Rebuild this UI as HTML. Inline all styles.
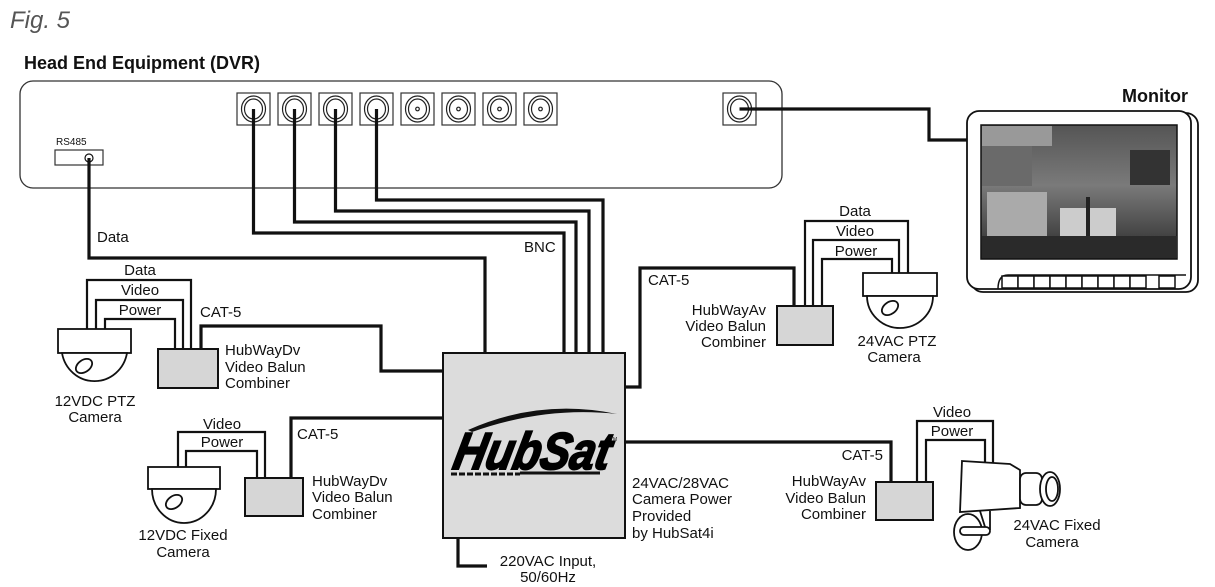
<!DOCTYPE html>
<html><head><meta charset="utf-8"><style>
html,body{margin:0;padding:0;background:#fff;}
svg{display:block;}
text{font-family:"Liberation Sans",Arial,sans-serif;fill:#111;}
</style></head><body>
<svg width="1215" height="587" viewBox="0 0 1215 587" xmlns="http://www.w3.org/2000/svg">
<defs>
<linearGradient id="scr" x1="0" y1="0" x2="0" y2="1">
<stop offset="0" stop-color="#555"/><stop offset="0.45" stop-color="#7a7a7a"/><stop offset="1" stop-color="#2a2a2a"/>
</linearGradient>
</defs>
<text x="10" y="28" font-size="24" font-style="italic" fill="#555" style="fill:#555">Fig. 5</text>
<text x="24" y="69" font-size="18" font-weight="bold">Head End Equipment (DVR)</text>

<!-- DVR -->
<rect x="20" y="81" width="762" height="107" rx="13" fill="#fff" stroke="#333" stroke-width="1.3"/>
<text x="56" y="145" font-size="10">RS485</text>
<rect x="55" y="150" width="48" height="15" fill="#fff" stroke="#333" stroke-width="1.2"/>
<circle cx="89" cy="158" r="4" fill="#fff" stroke="#111" stroke-width="1.2"/>
<g stroke="#333" stroke-width="1.2" fill="#fff">
<rect x="237" y="93" width="33" height="32"/><rect x="278" y="93" width="33" height="32"/>
<rect x="319" y="93" width="33" height="32"/><rect x="360" y="93" width="33" height="32"/>
<rect x="401" y="93" width="33" height="32"/><rect x="442" y="93" width="33" height="32"/>
<rect x="483" y="93" width="33" height="32"/><rect x="524" y="93" width="33" height="32"/>
<rect x="723" y="93" width="33" height="32"/>
</g>
<g stroke="#222" stroke-width="1.2" fill="none">
<ellipse cx="253.5" cy="109" rx="12" ry="13"/><ellipse cx="253.5" cy="109" rx="9" ry="10"/>
<ellipse cx="294.5" cy="109" rx="12" ry="13"/><ellipse cx="294.5" cy="109" rx="9" ry="10"/>
<ellipse cx="335.5" cy="109" rx="12" ry="13"/><ellipse cx="335.5" cy="109" rx="9" ry="10"/>
<ellipse cx="376.5" cy="109" rx="12" ry="13"/><ellipse cx="376.5" cy="109" rx="9" ry="10"/>
<ellipse cx="417.5" cy="109" rx="12" ry="13"/><ellipse cx="417.5" cy="109" rx="9" ry="10"/><circle cx="417.5" cy="109" r="1.8"/>
<ellipse cx="458.5" cy="109" rx="12" ry="13"/><ellipse cx="458.5" cy="109" rx="9" ry="10"/><circle cx="458.5" cy="109" r="1.8"/>
<ellipse cx="499.5" cy="109" rx="12" ry="13"/><ellipse cx="499.5" cy="109" rx="9" ry="10"/><circle cx="499.5" cy="109" r="1.8"/>
<ellipse cx="540.5" cy="109" rx="12" ry="13"/><ellipse cx="540.5" cy="109" rx="9" ry="10"/><circle cx="540.5" cy="109" r="1.8"/>
<ellipse cx="739.5" cy="109" rx="12" ry="13"/><ellipse cx="739.5" cy="109" rx="9" ry="10"/>
</g>

<!-- wires -->
<g stroke="#111" stroke-width="3.2" fill="none" stroke-linejoin="miter">
<polyline points="89,158 89,258 485,258 485,353"/>
<polyline points="253.5,109 253.5,233 564,233 564,353"/>
<polyline points="294.5,109 294.5,222 576,222 576,353"/>
<polyline points="335.5,109 335.5,211 589,211 589,353"/>
<polyline points="376.5,109 376.5,200 603,200 603,353"/>
<polyline points="739.5,109 929,109 929,140 967,140"/>
<polyline points="201,349 201,326 381,326 381,371 443,371"/>
<polyline points="291,478 291,418 443,418"/>
<polyline points="625,387 640,387 640,268 794,268 794,306"/>
<polyline points="625,442 891,442 891,482"/>
<polyline points="458,538 458,566 487,566"/>
</g>
<g stroke="#111" stroke-width="2.2" fill="none">
<polyline points="87,330 87,280 191,280 191,349"/>
<polyline points="96,330 96,300 183,300 183,349"/>
<polyline points="105,330 105,319 175,319 175,349"/>
<polyline points="178,467 178,432 265,432 265,478"/>
<polyline points="186,467 186,451 257,451 257,478"/>
<polyline points="805,306 805,221 908,221 908,273"/>
<polyline points="813,306 813,240 899,240 899,273"/>
<polyline points="822,306 822,259 892,259 892,273"/>
<polyline points="917,482 917,421 993,421 993,465"/>
<polyline points="926,482 926,440 985,440 985,465"/>
</g>

<text x="97" y="242" font-size="15">Data</text>
<text x="524" y="252" font-size="15">BNC</text>

<g fill="#d6d6d6" stroke="#111" stroke-width="2">
<rect x="158" y="349" width="60" height="39"/>
<rect x="245" y="478" width="58" height="38"/>
<rect x="777" y="306" width="56" height="39"/>
<rect x="876" y="482" width="57" height="38"/>
</g>

<!-- HubSat -->
<rect x="443" y="353" width="182" height="185" fill="#dcdcdc" stroke="#111" stroke-width="2"/>
<path d="M468 430 Q540 398 617 414 Q545 406 472 432 Z" fill="#111"/>
<text x="452" y="469" font-size="52" font-weight="bold" font-style="italic" fill="#000" style="fill:#000;stroke:#000;stroke-width:2" transform="skewX(-12) translate(99,0)" textLength="156" lengthAdjust="spacingAndGlyphs">HubSat</text>
<line x1="451" y1="474" x2="520" y2="474" stroke="#111" stroke-width="3" stroke-dasharray="6,2"/>
<line x1="520" y1="473" x2="600" y2="473" stroke="#111" stroke-width="3"/>
<text x="610" y="441" font-size="5">TM</text>

<g stroke="#111" stroke-width="1.8" fill="#fff">
<rect x="58" y="329" width="73" height="24"/>
<path d="M62 353 A33 34 0 0 0 127 353 Z"/>
<ellipse cx="84" cy="366" rx="9" ry="6" transform="rotate(-35 84 366)"/>
<rect x="148" y="467" width="72" height="22"/>
<path d="M152 489 A32 34 0 0 0 216 489 Z"/>
<ellipse cx="174" cy="502" rx="9" ry="6" transform="rotate(-35 174 502)"/>
<rect x="863" y="273" width="74" height="23"/>
<path d="M867 296 A33 32 0 0 0 933 296 Z"/>
<ellipse cx="890" cy="308" rx="9" ry="6" transform="rotate(-35 890 308)"/>
<path d="M962 461 L1010 464 L1020 470 L1020 508 L960 512 Z"/>
<rect x="1020" y="473" width="22" height="32" rx="6"/>
<ellipse cx="1050" cy="489" rx="10" ry="17"/>
<ellipse cx="1052" cy="489" rx="6" ry="12"/>
<path d="M980 511 L986 530 M990 511 L990 530"/>
<ellipse cx="968" cy="532" rx="14" ry="18"/>
<rect x="960" y="527" width="30" height="8" rx="4"/>
</g>

<g font-size="15" text-anchor="middle">
<text x="140" y="275">Data</text><text x="140" y="295">Video</text><text x="140" y="315">Power</text>
<text x="95" y="406">12VDC PTZ</text><text x="95" y="422">Camera</text>
<text x="222" y="429">Video</text><text x="222" y="447">Power</text>
<text x="183" y="540">12VDC Fixed</text><text x="183" y="557">Camera</text>
<text x="855" y="216">Data</text><text x="855" y="236">Video</text><text x="856" y="256">Power</text>
<text x="897" y="346">24VAC PTZ</text><text x="894" y="362">Camera</text>
<text x="952" y="417">Video</text><text x="952" y="436">Power</text>
<text x="1057" y="530">24VAC Fixed</text><text x="1052" y="547">Camera</text>
<text x="548" y="566">220VAC Input,</text><text x="548" y="582">50/60Hz</text>
</g>
<g font-size="15">
<text x="200" y="317">CAT-5</text>
<text x="225" y="355">HubWayDv</text><text x="225" y="372">Video Balun</text><text x="225" y="388">Combiner</text>
<text x="297" y="439">CAT-5</text>
<text x="312" y="486">HubWayDv</text><text x="312" y="502">Video Balun</text><text x="312" y="519">Combiner</text>
<text x="648" y="285">CAT-5</text>
<text x="632" y="488">24VAC/28VAC</text><text x="632" y="504">Camera Power</text><text x="632" y="521">Provided</text><text x="632" y="538">by HubSat4i</text>
</g>
<g font-size="15" text-anchor="end">
<text x="766" y="315">HubWayAv</text><text x="766" y="331">Video Balun</text><text x="766" y="347">Combiner</text>
<text x="883" y="460">CAT-5</text>
<text x="866" y="486">HubWayAv</text><text x="866" y="503">Video Balun</text><text x="866" y="519">Combiner</text>
</g>

<!-- Monitor -->
<text x="1122" y="102" font-size="18" font-weight="bold">Monitor</text>
<rect x="971" y="113" width="227" height="179" rx="12" fill="#fff" stroke="#111" stroke-width="1.8"/>
<rect x="967" y="111" width="224" height="178" rx="12" fill="#fff" stroke="#111" stroke-width="1.8"/>
<rect x="981" y="125" width="196" height="134" fill="url(#scr)" stroke="#111" stroke-width="1.5"/>
<rect x="982" y="126" width="70" height="20" fill="#999"/>
<rect x="982" y="146" width="50" height="40" fill="#6a6a6a"/>
<rect x="1130" y="150" width="40" height="35" fill="#333"/>
<rect x="987" y="192" width="60" height="45" fill="#aaa"/>
<rect x="1060" y="208" width="56" height="38" fill="#ccc"/>
<rect x="1086" y="197" width="4" height="55" fill="#222"/>
<rect x="982" y="236" width="195" height="22" fill="#2a2a2a"/>
<path d="M998 289 Q998 275 1008 275 L1186 275" fill="none" stroke="#111" stroke-width="1.5"/>
<g fill="#fff" stroke="#111" stroke-width="1.5">
<rect x="1002" y="276" width="16" height="12"/><rect x="1018" y="276" width="16" height="12"/><rect x="1034" y="276" width="16" height="12"/>
<rect x="1050" y="276" width="16" height="12"/><rect x="1066" y="276" width="16" height="12"/><rect x="1082" y="276" width="16" height="12"/>
<rect x="1098" y="276" width="16" height="12"/><rect x="1114" y="276" width="16" height="12"/><rect x="1130" y="276" width="16" height="12"/>
<rect x="1159" y="276" width="16" height="12"/>
</g>
</svg>
</body></html>
